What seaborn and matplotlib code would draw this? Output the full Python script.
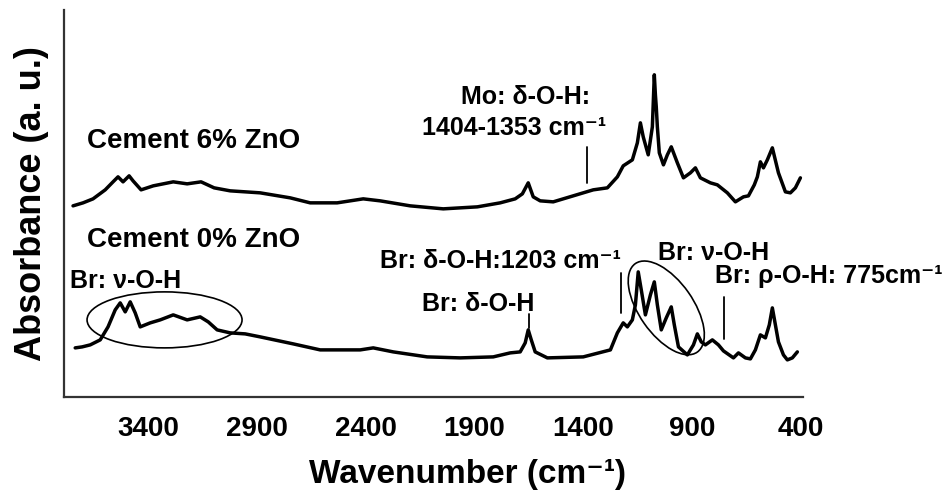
"""
FTIR spectra of cement with 0% and 6% ZnO
"""

import numpy as np
import pandas as pd
import matplotlib
matplotlib.use("Agg")
import matplotlib.pyplot as plt
import seaborn as sns
from matplotlib.patches import Ellipse
from matplotlib.transforms import ScaledTranslation


# Spectra (wavenumber in cm-1, absorbance in a.u., stacked)

wn_6 = [3746, 3700, 3654, 3598, 3562, 3539, 3516, 3488, 3470, 3433, 3377, 3285,
        3221, 3157, 3097, 3023, 2885, 2747, 2655, 2531, 2411, 2333, 2195, 2043,
        1886, 1781, 1712, 1679, 1652, 1629, 1597, 1537, 1445, 1353, 1288, 1242,
        1215, 1173, 1150, 1136, 1123, 1100, 1081, 1072, 1067, 1063, 1058, 1049,
        1030, 1012, 994, 966, 938, 906, 883, 860, 814, 782, 736, 699, 662, 639,
        612, 598, 584, 570, 552, 529, 501, 469, 446, 423, 400]
abs_6 = [1.91, 1.94, 1.98, 2.07, 2.15, 2.20, 2.15, 2.21, 2.16, 2.07, 2.11, 2.15,
         2.13, 2.15, 2.09, 2.06, 2.04, 1.99, 1.94, 1.94, 1.98, 1.96, 1.91, 1.88,
         1.90, 1.94, 1.98, 2.03, 2.14, 2.00, 1.96, 1.95, 2.01, 2.07, 2.09, 2.20,
         2.31, 2.37, 2.54, 2.74, 2.60, 2.42, 2.70, 3.22, 3.02, 2.90, 2.70, 2.44,
         2.32, 2.42, 2.50, 2.34, 2.19, 2.24, 2.29, 2.19, 2.14, 2.12, 2.04, 1.95,
         2.00, 2.01, 2.12, 2.20, 2.35, 2.29, 2.37, 2.49, 2.24, 2.05, 2.04, 2.09,
         2.19]

wn_0 = [3736, 3704, 3667, 3621, 3585, 3552, 3529, 3506, 3483, 3460, 3437, 3391,
        3345, 3285, 3221, 3161, 3124, 3083, 3023, 2954, 2885, 2733, 2609, 2425,
        2365, 2273, 2117, 1965, 1813, 1735, 1689, 1666, 1652, 1638, 1620, 1564,
        1399, 1274, 1242, 1215, 1196, 1173, 1159, 1146, 1132, 1113, 1090, 1072,
        1058, 1040, 1017, 994, 980, 961, 920, 892, 874, 856, 837, 805, 777, 754,
        708, 685, 653, 630, 607, 584, 561, 543, 529, 515, 501, 478, 460, 437, 414]
abs_0 = [0.49, 0.50, 0.52, 0.57, 0.70, 0.87, 0.94, 0.85, 0.95, 0.84, 0.70, 0.74,
         0.77, 0.82, 0.77, 0.80, 0.75, 0.67, 0.64, 0.63, 0.60, 0.53, 0.47, 0.47,
         0.49, 0.45, 0.40, 0.39, 0.40, 0.44, 0.45, 0.54, 0.67, 0.57, 0.45, 0.39,
         0.40, 0.47, 0.64, 0.74, 0.70, 0.77, 0.92, 1.25, 1.07, 0.82, 1.02, 1.15,
         0.92, 0.67, 0.79, 0.90, 0.72, 0.50, 0.42, 0.52, 0.63, 0.55, 0.52, 0.57,
         0.52, 0.46, 0.39, 0.44, 0.39, 0.38, 0.47, 0.62, 0.59, 0.72, 0.89, 0.72,
         0.55, 0.42, 0.37, 0.39, 0.45]

samples = ["Cement 6% ZnO", "Cement 0% ZnO"]
x_ticks = [3400, 2900, 2400, 1900, 1400, 900, 400]

# Marker lines for band assignments: (wavenumber, y from, y to)
band_lines = [(1380, 2.14, 2.50), (1224, 0.84, 1.24), (750, 0.58, 1.00), (1647, 0.69, 0.83)]


df = pd.concat([
    pd.DataFrame({"wavenumber": wn_6, "absorbance": abs_6, "sample": samples[0]}),
    pd.DataFrame({"wavenumber": wn_0, "absorbance": abs_0, "sample": samples[1]}),
])

sns.set_style("white")
plt.rcParams["font.family"] = ["Liberation Sans", "DejaVu Sans"]
plt.rcParams["font.weight"] = "bold"
plt.rcParams["text.color"] = "black"
plt.rcParams["axes.labelcolor"] = "black"
plt.rcParams["xtick.color"] = "black"
plt.rcParams["lines.solid_joinstyle"] = "round"
plt.rcParams["lines.solid_capstyle"] = "round"

fig = plt.figure(figsize=(9.43, 4.90), dpi=100)
ax = fig.add_axes([0.068, 0.19, 0.784, 0.79])

sns.lineplot(data=df, x="wavenumber", y="absorbance", hue="sample", units="sample",
             estimator=None, palette=["black", "black"], linewidth=2.5,
             legend=False, ax=ax)

ax.set_xlim(3787, 386)
ax.set_ylim(0, 3.87)
ax.set_xticks(x_ticks)
ax.set_xticklabels([str(t) for t in x_ticks], fontsize=20, fontweight="bold")
ax.set_yticks([])
ax.tick_params(axis="x", length=0, pad=14)

ax.set_xlabel("Wavenumber (cm⁻¹)", fontsize=24, fontweight="bold")
ax.set_ylabel("Absorbance (a. u.)", fontsize=26, fontweight="bold")
ax.xaxis.set_label_coords(0.545, -0.16)
ax.yaxis.set_label_coords(-0.02, 0.5)

sns.despine(ax=ax)
for side in ["left", "bottom"]:
    ax.spines[side].set_color("#333333")
    ax.spines[side].set_linewidth(1.6)

# Sample names
ax.text(3681, 2.49, samples[0], fontsize=20, fontweight="bold", ha="left", va="baseline")
ax.text(3681, 1.50, samples[1], fontsize=20, fontweight="bold", ha="left", va="baseline")

# Band labels
fs = 18
ax.text(3759, 1.09, "Br: ν-O-H", fontsize=fs, fontweight="bold", ha="left", va="baseline")
ax.text(1666, 2.93, "Mo: δ-O-H:", fontsize=fs, fontweight="bold", ha="center", va="baseline")
ax.text(1716, 2.62, "1404-1353 cm⁻¹", fontsize=fs, fontweight="bold", ha="center", va="baseline")
ax.text(1781, 1.29, "Br: δ-O-H:1203 cm⁻¹", fontsize=fs, fontweight="bold", ha="center", va="baseline")
ax.text(1882, 0.86, "Br: δ-O-H", fontsize=fs, fontweight="bold", ha="center", va="baseline")
ax.text(800, 1.37, "Br: ν-O-H", fontsize=fs, fontweight="bold", ha="center", va="baseline")
ax.text(791, 1.14, "Br: ρ-O-H: 775cm⁻¹", fontsize=fs, fontweight="bold", ha="left",
        va="baseline", clip_on=False)

for x, y0, y1 in band_lines:
    ax.plot([x, x], [y0, y1], color="black", linewidth=1.3)

# Ellipses drawn in inches, centred on data points
for cx, cy, w, h, ang in [(3325, 0.77, 1.55, 0.56, 0), (1017, 0.89, 1.08, 0.54, 125)]:
    trans = fig.dpi_scale_trans + ScaledTranslation(cx, cy, ax.transData)
    ax.add_patch(Ellipse((0, 0), w, h, angle=ang, transform=trans,
                         fill=False, edgecolor="black", linewidth=1.2))

fig.savefig("out.png", dpi=100)
plt.close()
